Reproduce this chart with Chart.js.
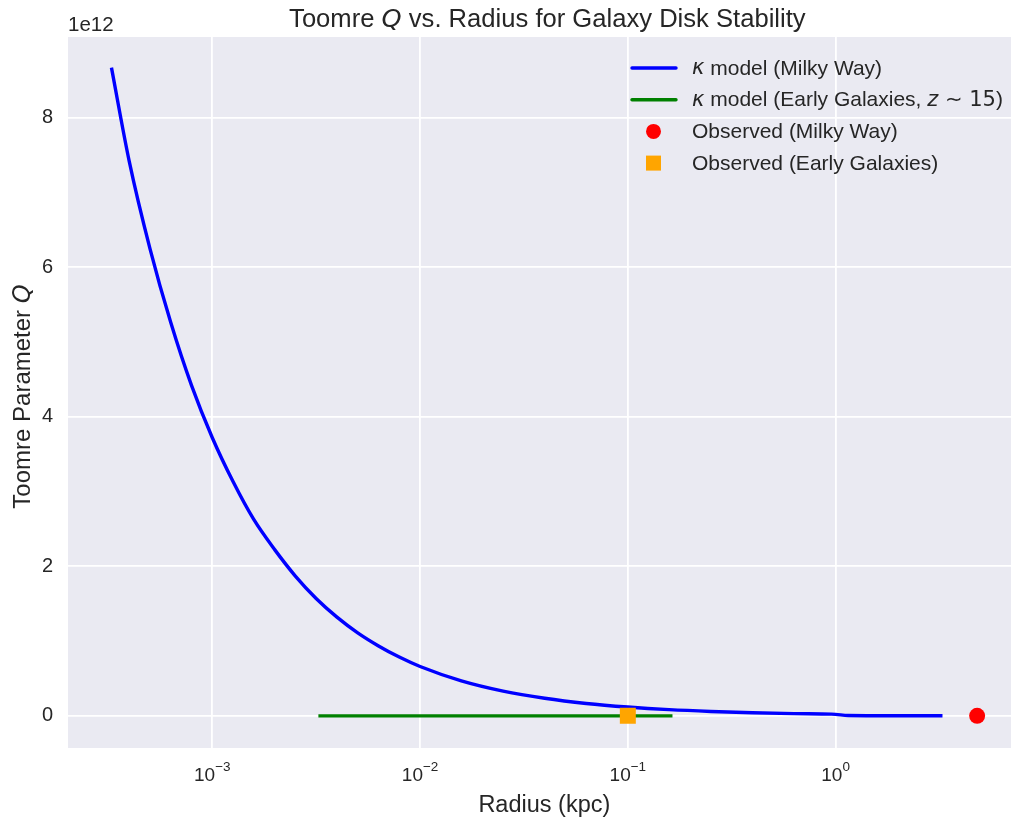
<!DOCTYPE html>
<html>
<head>
<meta charset="utf-8">
<script src="https://cdn.jsdelivr.net/npm/chart.js@4.4.1/dist/chart.umd.min.js"></script>
<style>
  html, body { margin: 0; padding: 0; background: #fff; overflow: hidden; }
  #wrap { width: 1032px; height: 818px; }
</style>
</head>
<body>
<div id="wrap"><canvas id="chart" width="1032" height="818"></canvas></div>
<script>
// Milky Way kappa model (Q in units of 1e12)
const mwRadius = [0.000327, 0.000398, 0.000501, 0.000631, 0.000794, 0.001, 0.00126, 0.00158, 0.002, 0.00251,
                  0.00316, 0.00398, 0.00501, 0.00631, 0.00794, 0.01, 0.0158, 0.0251, 0.0398, 0.0631,
                  0.1, 0.158, 0.251, 0.398, 0.631, 0.955, 1.0, 1.15, 1.6, 3.27];
const mwQ = [8.67, 7.42, 6.25, 5.26, 4.42, 3.72, 3.13, 2.63, 2.22, 1.87,
             1.57, 1.32, 1.11, 0.935, 0.786, 0.66, 0.468, 0.331, 0.235, 0.166,
             0.118, 0.083, 0.059, 0.042, 0.030, 0.023, 0.020, 0.004, 0.002, 0.001];

// Early galaxies kappa model (z ~ 15)
const earlyRadius = [0.00324, 0.01, 0.05, 0.164];
const earlyQ = [0, 0, 0, 0];

// observed points
const obsMwRadius = [4.8];
const obsMwQ = [0];
const obsEarlyRadius = [0.1];
const obsEarlyQ = [0];

const xTickValues = [0.001, 0.01, 0.1, 1];
const xTickExp = ['\u22123', '\u22122', '\u22121', '0'];
const yTickValues = [0, 2, 4, 6, 8];

const legendLabels = [
  [['\u03ba', true], [' model (Milky Way)', false]],
  [['\u03ba', true], [' model (Early Galaxies, ', false], ['z', true], [' \u223c 15', false, true], [')', false]],
  [['Observed (Milky Way)', false]],
  [['Observed (Early Galaxies)', false]]
];

const textColor = '#262626';
const sansFont = "'Liberation Sans', Arial, sans-serif";
const mathFont = "'DejaVu Sans', sans-serif";

function toPoints(xs, ys) {
  return xs.map((x, i) => ({ x: x, y: ys[i] }));
}

function partFont(p, size) {
  if (p[1]) return 'italic ' + size + 'px ' + mathFont;
  if (p[2]) return size + 'px ' + mathFont;
  return size + 'px ' + sansFont;
}

function drawRich(ctx, parts, x, y, size, align) {
  let total = 0;
  parts.forEach(p => { ctx.font = partFont(p, size); total += ctx.measureText(p[0]).width; });
  let cx = align === 'center' ? x - total / 2 : x;
  ctx.textAlign = 'left';
  parts.forEach(p => {
    ctx.font = partFont(p, size);
    ctx.fillText(p[0], cx, y);
    cx += ctx.measureText(p[0]).width;
  });
}

const plotBg = {
  id: 'plotBg',
  beforeDraw(chart) {
    const { ctx, chartArea: a } = chart;
    ctx.save();
    ctx.fillStyle = '#EAEAF2';
    ctx.fillRect(a.left, a.top, a.right - a.left, a.bottom - a.top);
    ctx.restore();
  }
};

const decorations = {
  id: 'decorations',
  afterDraw(chart) {
    const { ctx, chartArea: a, scales } = chart;
    ctx.save();
    ctx.fillStyle = textColor;
    ctx.textBaseline = 'alphabetic';
    const midX = (a.left + a.right) / 2;

    // title
    drawRich(ctx, [['Toomre ', false], ['Q', true], [' vs. Radius for Galaxy Disk Stability', false]], midX + 3, 27, 25.6, 'center');

    // offset text
    ctx.font = '20.5px ' + sansFont;
    ctx.textAlign = 'left';
    ctx.fillText('1e12', a.left, 31);

    // x tick labels 10^k
    xTickValues.forEach((v, i) => {
      const px = scales.x.getPixelForValue(v);
      ctx.font = '19px ' + sansFont;
      const w1 = ctx.measureText('10').width;
      ctx.font = '13.5px ' + sansFont;
      const w2 = ctx.measureText(xTickExp[i]).width;
      const start = px - (w1 + w2) / 2;
      ctx.font = '19px ' + sansFont;
      ctx.fillText('10', start, 781);
      ctx.font = '13.5px ' + sansFont;
      ctx.fillText(xTickExp[i], start + w1, 771);
    });

    // x axis title
    ctx.font = '23.5px ' + sansFont;
    ctx.textAlign = 'center';
    ctx.fillText('Radius (kpc)', midX, 812);

    // y axis title
    ctx.save();
    ctx.translate(30, (a.top + a.bottom) / 2 + 4);
    ctx.rotate(-Math.PI / 2);
    drawRich(ctx, [['Toomre Parameter ', false], ['Q', true]], 0, 0, 24, 'center');
    ctx.restore();

    // legend
    const ds = chart.data.datasets;
    legendLabels.forEach((parts, i) => {
      const cy = 68 + i * 31.7;
      const d = ds[i];
      if (d.showLine) {
        ctx.strokeStyle = d.borderColor;
        ctx.lineWidth = d.borderWidth;
        ctx.lineCap = 'round';
        ctx.beginPath();
        ctx.moveTo(632, cy);
        ctx.lineTo(676, cy);
        ctx.stroke();
      } else if (d.pointStyle === 'rect') {
        ctx.fillStyle = d.backgroundColor;
        ctx.fillRect(646, cy - 7.5, 15, 15);
      } else {
        ctx.fillStyle = d.backgroundColor;
        ctx.beginPath();
        ctx.arc(653.5, cy, 7.5, 0, Math.PI * 2);
        ctx.fill();
      }
      ctx.fillStyle = textColor;
      ctx.textBaseline = 'middle';
      drawRich(ctx, parts, 692, cy + 1, 21, 'left');
      ctx.textBaseline = 'alphabetic';
    });
    ctx.restore();
  }
};

const ctx = document.getElementById('chart').getContext('2d');
new Chart(ctx, {
  type: 'scatter',
  data: {
    datasets: [
      {
        label: 'kappa model (Milky Way)',
        data: toPoints(mwRadius, mwQ),
        showLine: true,
        borderColor: '#0000FF',
        borderWidth: 3.4,
        pointRadius: 0,
        cubicInterpolationMode: 'monotone',
        order: 3
      },
      {
        label: 'kappa model (Early Galaxies, z ~ 15)',
        data: toPoints(earlyRadius, earlyQ),
        showLine: true,
        borderColor: '#008000',
        borderWidth: 3.4,
        pointRadius: 0,
        order: 2
      },
      {
        label: 'Observed (Milky Way)',
        data: toPoints(obsMwRadius, obsMwQ),
        backgroundColor: '#FF0000',
        borderWidth: 0,
        pointStyle: 'circle',
        pointRadius: 8,
        order: 1
      },
      {
        label: 'Observed (Early Galaxies)',
        data: toPoints(obsEarlyRadius, obsEarlyQ),
        backgroundColor: '#FFA500',
        borderWidth: 0,
        pointStyle: 'rect',
        pointRadius: 11.3,
        order: 0
      }
    ]
  },
  options: {
    responsive: false,
    animation: false,
    devicePixelRatio: 1,
    layout: { padding: { top: 37, right: 4, left: 0, bottom: 0 } },
    plugins: {
      legend: { display: false },
      title: { display: false },
      tooltip: { enabled: false }
    },
    scales: {
      x: {
        type: 'logarithmic',
        min: 0.000202,
        max: 7.78,
        afterBuildTicks: scale => { scale.ticks = xTickValues.map(v => ({ value: v })); },
        afterFit: scale => { scale.height = 70; },
        grid: { color: '#FFFFFF', lineWidth: 1.8, drawTicks: false },
        border: { display: false },
        ticks: { display: false }
      },
      y: {
        type: 'linear',
        min: -0.43,
        max: 9.08,
        afterBuildTicks: scale => { scale.ticks = yTickValues.map(v => ({ value: v })); },
        afterFit: scale => { scale.width = 68; },
        grid: { color: '#FFFFFF', lineWidth: 1.8, drawTicks: false },
        border: { display: false },
        ticks: {
          padding: 15,
          color: textColor,
          font: { family: sansFont, size: 20 },
          callback: v => String(v)
        }
      }
    }
  },
  plugins: [plotBg, decorations]
});
</script>
</body>
</html>
